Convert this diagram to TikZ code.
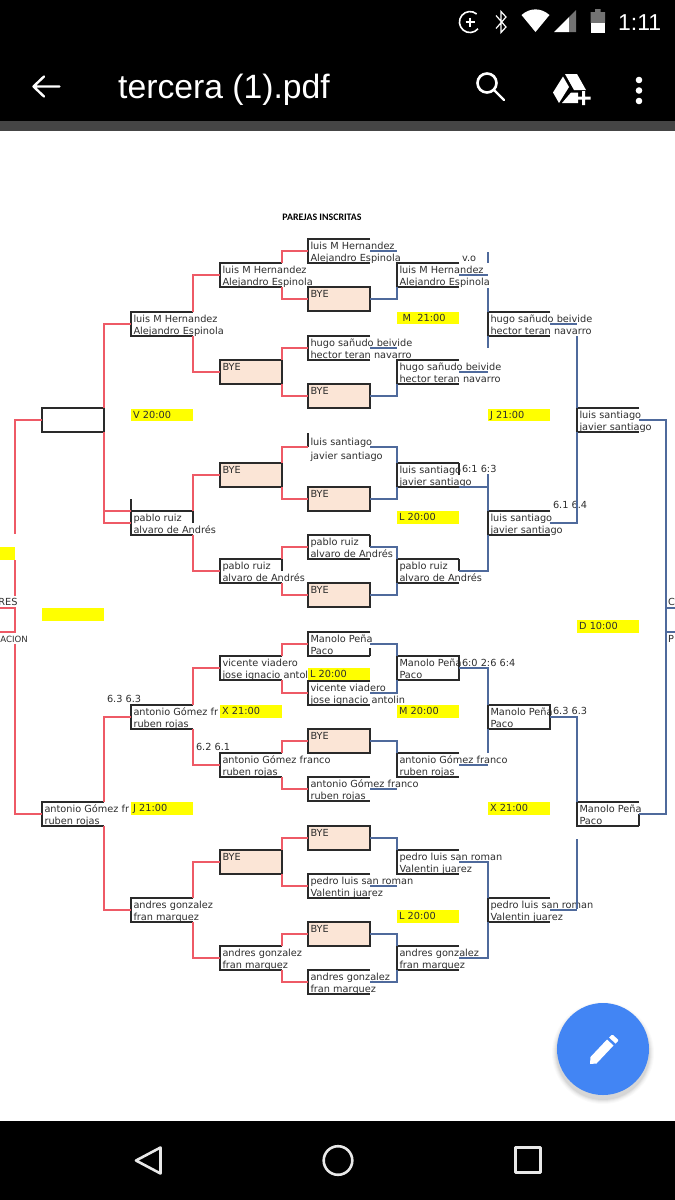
\documentclass[tikz,border=0pt]{standalone}
\usepackage{fontspec}
\setmainfont{DejaVu Sans}
\newfontfamily\headfont{Carlito}
\newfontfamily\uifont{Liberation Sans}
\definecolor{rline}{HTML}{EE5A66}
\definecolor{bline}{HTML}{4F6A9C}
\definecolor{frame}{HTML}{2A2A2A}
\definecolor{peach}{HTML}{FBE5D6}
\definecolor{ylw}{HTML}{FFFF00}
\definecolor{txt}{HTML}{2E2E2E}
\definecolor{fab}{HTML}{4285F4}
\definecolor{chrome}{HTML}{E8E8E8}
\tikzset{
  slot/.style={inner sep=0pt,outer sep=0pt,minimum width=62pt,minimum height=24pt,anchor=north west},
  fr/.style={draw=frame,line width=1.3pt},
  rd/.style={draw=rline,line width=1.1pt},
  bl/.style={draw=bline,line width=1.05pt},
  celltext/.style={inner sep=0pt,outer sep=0pt,anchor=base west,text=txt,font=\fontsize{9.75}{10}\selectfont},
  yslot/.style={inner sep=0pt,outer sep=0pt,minimum width=62pt,minimum height=12.5pt,anchor=north west,fill=ylw,text=txt,font=\fontsize{9.75}{10}\selectfont,align=left,text width=58pt,text depth=0pt},
  score/.style={inner sep=0pt,outer sep=1pt,anchor=base west,fill=white,text=txt,font=\fontsize{9.75}{10}\selectfont},
  ui/.style={draw=white,line width=2.4pt,line cap=round,line join=round},
  nav/.style={draw=chrome,line width=2.6pt,line join=round},
}
\newcommand\cellblank[3]{\node[slot] (#1) at (#2,#3) {};}
\newcommand\celltxt[3]{%
  \node[celltext,xshift=2.5pt,yshift=-10pt] (#1t1) at (#1.north west) {#2};
  \node[celltext,xshift=2.5pt,yshift=-22pt] (#1t2) at (#1.north west) {#3};}
\newcommand\opencell[5]{\cellblank{#1}{#2}{#3}\celltxt{#1}{#4}{#5}}
\newcommand\bye[3]{\node[slot,fr,fill=peach] (#1) at (#2,#3) {};
  \node[celltext,xshift=2.5pt,yshift=-10pt] (#1t) at (#1.north west) {BYE};}
\newcommand\openframe[1]{\draw[fr] (#1.north east)--(#1.north west)--(#1.south west)--(#1.south east);}
\newcommand\fullframe[1]{\draw[fr] (#1.north west) rectangle (#1.south east);}
\newcommand\uptick[1]{\draw[fr] (#1.north east)--(#1.east);}
\begin{document}
\begin{tikzpicture}[x=1pt,y=-1pt]
\useasboundingbox (0,0) rectangle (675,1200);
\clip (0,0) rectangle (675,1200);
\fill[white] (0,0) rectangle (675,1200);
% ---------- title
\node[inner sep=0pt,font=\headfont\bfseries\fontsize{9.9}{10}\selectfont,text=black] (title) at (322,217) {PAREJAS INSCRITAS};
% ---------- peach boxes first, then cells
\bye{cIIb}{220}{360} \bye{cIIc}{220}{463} \bye{cIIg}{220}{850}
\bye{cIIIb}{308}{287} \bye{cIIId}{308}{384} \bye{cIIIf}{308}{487} \bye{cIIIh}{308}{583}
\bye{cIIIk}{308}{729} \bye{cIIIm}{308}{826} \bye{cIIIo}{308}{922}
% column 0
\cellblank{cOa}{42}{408}
\opencell{cOb}{42}{802}{antonio Gómez fr}{ruben rojas}
% column 1
\opencell{cIa}{131}{312}{luis M Hernandez}{Alejandro Espinola}
\opencell{cIb}{131}{511}{pablo ruiz}{alvaro de Andrés}
\opencell{cIc}{131}{705}{antonio Gómez fr}{ruben rojas}
\opencell{cId}{131}{898}{andres gonzalez}{fran marquez}
% column 2
\opencell{cIIa}{220}{263}{luis M Hernandez}{Alejandro Espinola}
\opencell{cIId}{220}{559}{pablo ruiz}{alvaro de Andrés}
\opencell{cIIe}{220}{656}{vicente viadero}{jose ignacio antol}
\opencell{cIIf}{220}{753}{antonio Gómez franco}{ruben rojas}
\opencell{cIIh}{220}{946}{andres gonzalez}{fran marquez}
% column 3
\opencell{cIIIa}{308}{239}{luis M Hernandez}{Alejandro Espinola}
\opencell{cIIIc}{308}{336}{hugo sañudo beivide}{hector teran navarro}
\cellblank{cIIIe}{308}{435}
\node[celltext,xshift=2.5pt,yshift=-10pt] (cIIIet1) at (cIIIe.north west) {luis santiago};
\node[celltext,xshift=2.5pt,yshift=-24pt] (cIIIet2) at (cIIIe.north west) {javier santiago};
\opencell{cIIIg}{308}{535}{pablo ruiz}{alvaro de Andrés}
\opencell{cIIIi}{308}{632}{Manolo Peña}{Paco}
\opencell{cIIIj}{308}{681}{vicente viadero}{jose ignacio antolin}
\opencell{cIIIl}{308}{777}{antonio Gómez franco}{ruben rojas}
\opencell{cIIIn}{308}{874}{pedro luis san roman}{Valentin juarez}
\opencell{cIIIp}{308}{970}{andres gonzalez}{fran marquez}
% column 4
\opencell{cIVa}{397}{263}{luis M Hernandez}{Alejandro Espinola}
\opencell{cIVb}{397}{360}{hugo sañudo beivide}{hector teran navarro}
\opencell{cIVc}{397}{463}{luis santiago}{javier santiago}
\opencell{cIVd}{397}{559}{pablo ruiz}{alvaro de Andrés}
\opencell{cIVe}{397}{656}{Manolo Peña}{Paco}
\opencell{cIVf}{397}{753}{antonio Gómez franco}{ruben rojas}
\opencell{cIVg}{397}{850}{pedro luis san roman}{Valentin juarez}
\opencell{cIVh}{397}{946}{andres gonzalez}{fran marquez}
% column 5
\opencell{cVa}{488}{312}{hugo sañudo beivide}{hector teran navarro}
\opencell{cVb}{488}{511}{luis santiago}{javier santiago}
\opencell{cVc}{488}{705}{Manolo Peña}{Paco}
\opencell{cVd}{488}{898}{pedro luis san roman}{Valentin juarez}
% column 6
\opencell{cVIa}{577}{408}{luis santiago}{javier santiago}
\opencell{cVIb}{577}{802}{Manolo Peña}{Paco}
% outer cells
\cellblank{lf}{-47}{608}
\cellblank{rf}{666}{608}
\node[celltext,anchor=base east] (lfa) at (17.5,605) {RES};
\node[celltext,anchor=base west,font=\fontsize{8.6}{10}\selectfont] (lfb) at (0.3,642) {ACION};
\node[celltext] (rfa) at (668,605) {C};
\node[celltext] (rfb) at (668,642) {P};
% ---------- yellow slots
\node[yslot] (yV) at (131,408.5) {V 20:00};
\node[yslot] (yMa) at (397,311.5) {\hspace{3.5pt}M\ \ 21:00};
\node[yslot] (yJa) at (488,408.5) {J 21:00};
\node[yslot] (yLa) at (397,511) {L 20:00};
\node[yslot] (yD) at (577,620) {D 10:00};
\node[yslot] (yLb) at (308,668) {L 20:00};
\node[yslot] (yXa) at (220,705) {X 21:00};
\node[yslot] (yMb) at (397,705) {M 20:00};
\node[yslot] (yJb) at (131,802) {J 21:00};
\node[yslot] (yXb) at (488,802) {X 21:00};
\node[yslot] (yLc) at (397,910) {L 20:00};
\node[yslot,minimum width=15pt,text width=15pt] (yLeft) at (0,547) {};
\node[yslot] (yBlank) at (42,608) {};
% ---------- scores
\node[score] (sa) at (461,261) {v.o};
\node[score] (sb) at (461,472.5) {6:1 6:3};
\node[score] (sc) at (552,508.5) {6.1 6.4};
\node[score] (sd) at (106,702) {6.3 6.3};
\node[score] (se) at (195,750.5) {6.2 6.1};
\node[score] (sf) at (461,666) {6:0 2:6 6:4};
\node[score] (sg) at (552,714.5) {6.3 6.3};
% ---------- frames
\fullframe{cOa} \openframe{cOb}
\openframe{cIa} \openframe{cIb} \openframe{cIc} \openframe{cId}
\draw[fr] (cIb.north west) -- ++(0,-12);
\uptick{cIb}
\openframe{cIIa} \openframe{cIId} \openframe{cIIe} \openframe{cIIf} \openframe{cIIh}
\uptick{cIId}
\openframe{cIIIa} \openframe{cIIIc} \openframe{cIIIg} \openframe{cIIIi} \openframe{cIIIl} \openframe{cIIIn} \openframe{cIIIp}
\draw[fr] (cIIIj.north east)--(cIIIj.north west)--(cIIIj.south west)--(cIIIj.south east);
\draw[fr] (cIIIe.north west) ++(0,-2) -- (cIIIe.west);
\uptick{cIIIg}
\draw[fr] (cIIIi.south east) -- ++(0,-8);
\openframe{cIVa} \openframe{cIVb} \openframe{cIVc} \openframe{cIVd} \openframe{cIVf} \openframe{cIVg} \openframe{cIVh}
\fullframe{cIVe} \uptick{cIVc} \uptick{cIVd}
\openframe{cVa} \openframe{cVb} \openframe{cVd} \fullframe{cVc}
\openframe{cVIa} \openframe{cVIb}
\draw[fr] (cVIb.south east) -- (cVIb.east);
% ---------- red connectors
\draw[rd] (cOa.west) -- (cOa.west -| lf.east) -- ++(0,114);
\draw[rd] (lf.north east) ++(0,-48) -- ++(0,36);
\draw[rd] (lf.north west) -- (lf.north east) -- (lf.south east) -- (lf.south west);
\draw[rd] (lf.south east) ++(0,12) |- (cOb.west);
\draw[rd] (cOa.north east) |- (cIa.west);
\draw[rd] (cOa.south east) |- (cIb.west);
\draw[rd] (cOa.south east |- cIb.north west) -- (cIb.north west);
\draw[rd] (cOb.north east) |- (cIc.west);
\draw[rd] (cOb.south east) |- (cId.west);
\draw[rd] (cIa.north east) |- (cIIa.west);
\draw[rd] (cIa.south east) |- (cIIb.west);
\draw[rd] (cIb.north east) |- (cIIc.west);
\draw[rd] (cIb.south east) |- (cIId.west);
\draw[rd] (cIc.north east) |- (cIIe.west);
\draw[rd] (cIc.south east) |- (cIIf.west);
\draw[rd] (cId.north east) |- (cIIg.west);
\draw[rd] (cId.south east) |- (cIIh.west);
\draw[rd] (cIIa.north east) |- (cIIIa.west);
\draw[rd] (cIIa.south east) |- (cIIIb.west);
\draw[rd] (cIIb.north east) |- (cIIIc.west);
\draw[rd] (cIIb.south east) |- (cIIId.west);
\draw[rd] (cIIc.north east) |- (cIIIe.west);
\draw[rd] (cIIc.south east) |- (cIIIf.west);
\draw[rd] (cIId.north east) |- (cIIIg.west);
\draw[rd] (cIId.south east) |- (cIIIh.west);
\draw[rd] (cIIe.north east) |- (cIIIi.west);
\draw[rd] (cIIe.south east) |- (cIIIj.west);
\draw[rd] (cIIf.north east) |- (cIIIk.west);
\draw[rd] (cIIf.south east) |- (cIIIl.west);
\draw[rd] (cIIg.north east) |- (cIIIm.west);
\draw[rd] (cIIg.south east) |- (cIIIn.west);
\draw[rd] (cIIh.north east) |- (cIIIo.west);
\draw[rd] (cIIh.south east) |- (cIIIp.west);
% ---------- blue connectors
\draw[bl] (cIIIa.east) -- (cIIIa.east -| cIVa.west);
\draw[bl] (cIIIb.east) -| (cIVa.south west);
\draw[bl] (cIIIc.east) -- (cIIIc.east -| cIVb.west);
\draw[bl] (cIIId.east) -| (cIVb.south west);
\draw[bl] (cIIIe.east) -| (cIVc.north west);
\draw[bl] (cIIIf.east) -| (cIVc.south west);
\draw[bl] (cIIIg.east) -| (cIVd.north west);
\draw[bl] (cIIIh.east) -| (cIVd.south west);
\draw[bl] (cIIIi.east) -| (cIVe.north west);
\draw[bl] (cIIIj.east) -| (cIVe.south west);
\draw[bl] (cIIIk.east) -| (cIVf.north west);
\draw[bl] (cIIIl.east) -- (cIIIl.east -| cIVf.west);
\draw[bl] (cIIIm.east) -| (cIVg.north west);
\draw[bl] (cIIIn.east) -- (cIIIn.east -| cIVg.west);
\draw[bl] (cIIIo.east) -| (cIVh.north west);
\draw[bl] (cIIIp.east) -| (cIVh.south west);
\draw[bl] (cIVa.east) -- (cIVa.east -| cVa.west);
\draw[bl] (cVa.north west) -- ++(0,-24);
\draw[bl] (cVa.north west) ++(0,-60) -- ++(0,11);
\draw[bl] (cVa.south west) -- ++(0,12);
\draw[bl] (cIVb.east) -- (cIVb.east -| cVa.west);
\draw[bl] (cIVc.south east) -- (cIVc.south east -| cVb.west);
\draw[bl] (cVb.north west) -- ++(0,-37);
\draw[bl] (cIVd.east) -| (cVb.south west);
\draw[bl] (cIVe.east) -| (cVc.north west);
\draw[bl] (cIVf.east) -- (cIVf.east -| cVc.west);
\draw[bl] (cVc.south west) -- ++(0,24);
\draw[bl] (cIVg.east) -| (cVd.north west);
\draw[bl] (cIVh.east) -| (cVd.south west);
\draw[bl] (cVa.east) -- (cVa.east -| cVIa.west);
\draw[bl] (cVIa.north west) -- ++(0,-72);
\draw[bl] (cVb.east) -| (cVIa.south west);
\draw[bl] (cVc.east) -| (cVIb.north west);
\draw[bl] (cVd.east) -- (cVd.east -| cVIb.west);
\draw[bl] (cVIb.south west) ++(0,13) -- ++(0,70);
\draw[bl] (cVIa.east) -| (rf.north west);
\draw[bl] (cVIb.east) -| (rf.south west);
\draw[bl] (rf.north east) -- (rf.north west) -- (rf.south west) -- (rf.south east);
% ---------- top chrome
\fill[black] (0,0) rectangle (675,121);
\fill[black!73] (0,121) rectangle (675,131);
% status icons
\draw[white,line width=1.6pt] (476.7,14) arc (-50:-320:10.5);
\draw[white,line width=1.2pt] (470,17.5) -- (470,26.5) (465.5,22) -- (474.5,22);
\draw[white,line width=1.2pt,line join=miter] (496,15.5) -- (506,27) -- (501,32.5) -- (501,11.5) -- (506,17) -- (496,28.5);
\fill[white] (521.5,15) .. controls (530,7.5) and (541,7.5) .. (549.5,15) -- (535.5,32) -- cycle;
\fill[white] (554,32) -- (569,17) -- (569,32) -- cycle;
\fill[black!55] (569,17) -- (576,10) -- (576,32) -- (569,32) -- cycle;
\fill[black!55] (590.5,12) -- (595,12) -- (595,9) -- (600.5,9) -- (600.5,12) -- (605,12) -- (605,23) -- (590.5,23) -- cycle;
\fill[white] (590.5,23) rectangle (605,33);
\node[inner sep=0pt,anchor=base west,text=white,font=\uifont\fontsize{23}{24}\selectfont] (clock) at (618,30) {1:11};
% toolbar
\draw[ui] (33.5,86.5) -- (59.5,86.5) (44,76.5) -- (33.5,86.5) -- (44,96.5);
\node[inner sep=0pt,anchor=base west,text=white,font=\uifont\fontsize{33.7}{34}\selectfont] (filename) at (118,98) {tercera (1).pdf};
\draw[white,line width=2.6pt] (487,83) circle (9.5);
\draw[ui] (494,90) -- (504,100);
\fill[white] (565,74) -- (577,74) -- (586,90) -- (574,90) -- cycle;
\fill[white] (563,76.5) -- (569,87) -- (559,103) -- (553,92.5) -- cycle;
\fill[white] (571,92.5) -- (578,92.5) -- (578,103) -- (562,103) -- cycle;
\fill[white] (582,91) rectangle (585,105) (576.5,96.5) rectangle (590.5,99.5);
\fill[white] (639,80) circle (3.3) (639,90.5) circle (3.3) (639,101) circle (3.3);
% ---------- floating button
\foreach \r/\o in {51/0.02,50/0.025,49/0.03,48/0.04,47/0.05}{\fill[black,opacity=\o] (603,1053) circle (\r);}
\fill[fab] (603,1049) circle (46);
\fill[white] (590,1064) -- (590.5,1057) -- (607,1039.5) -- (613.5,1045.5) -- (596.5,1063.5) -- cycle;
\fill[white] (609,1037.5) -- (611.5,1035) -- (613,1035) -- (618,1039.5) -- (618,1041) -- (615.5,1043.5) -- cycle;
% ---------- nav bar
\fill[black] (0,1121) rectangle (675,1200);
\draw[nav] (160.5,1147.5) -- (136,1160.5) -- (160.5,1173.5) -- cycle;
\draw[nav] (338,1160.5) circle (14.3);
\draw[nav] (515.5,1147.5) rectangle (540.5,1172.5);
\end{tikzpicture}
\end{document}
